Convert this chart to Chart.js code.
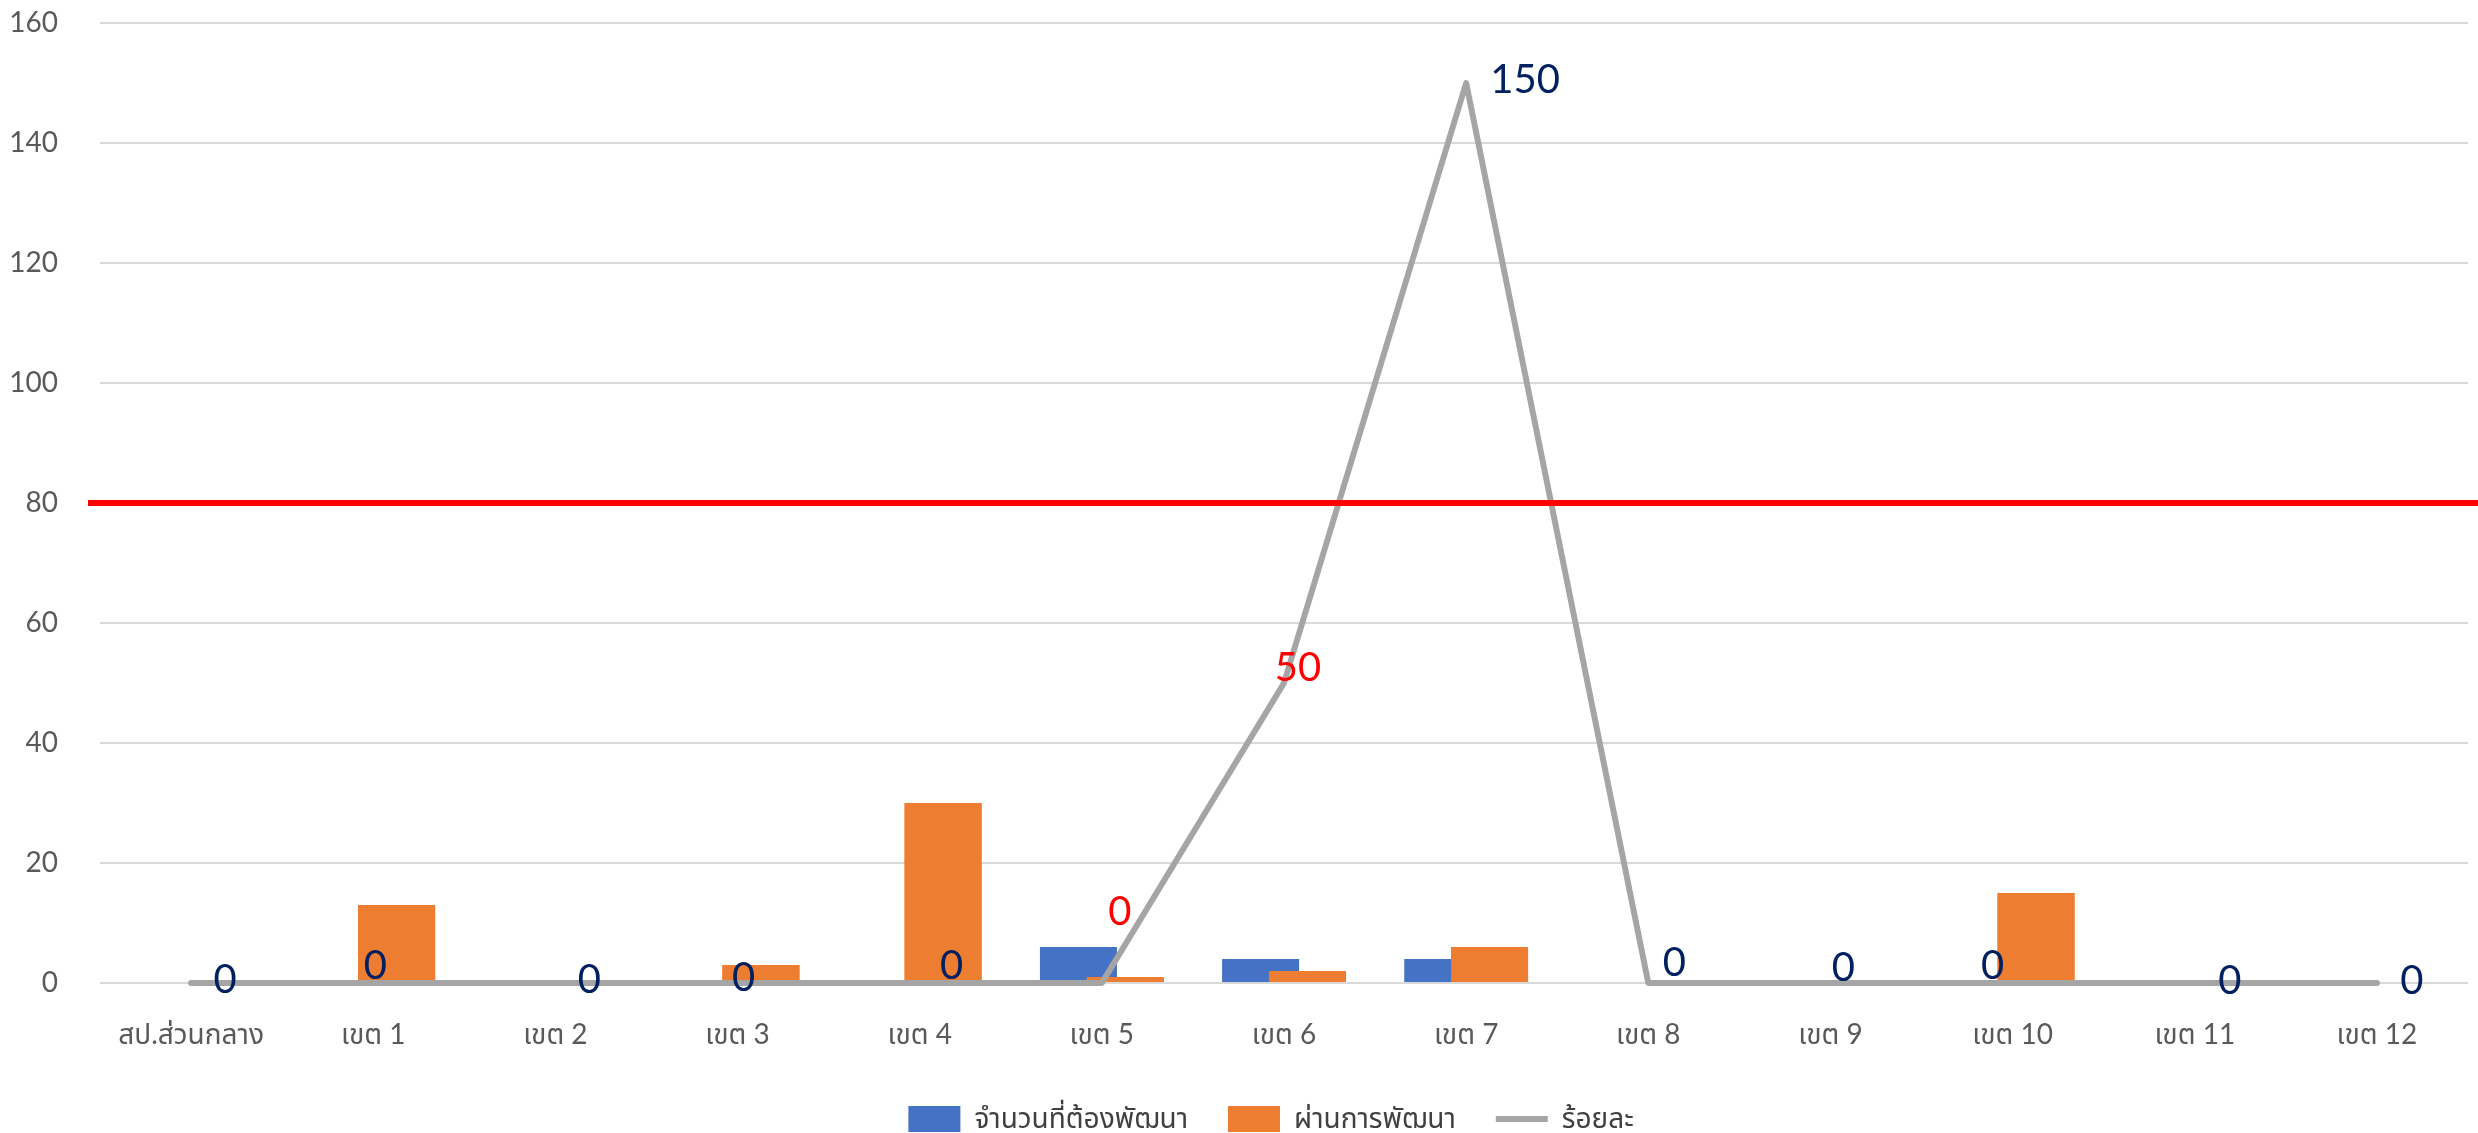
<!DOCTYPE html>
<html lang="th">
<head>
<meta charset="utf-8">
<title>ร้อยละผู้ผ่านการพัฒนา</title>
<script src="https://cdn.jsdelivr.net/npm/chart.js@4.4.1/dist/chart.umd.min.js"></script>
<style>
  html, body { margin: 0; padding: 0; background: #ffffff; overflow: hidden; }
  canvas { display: block; }
</style>
</head>
<body>
<canvas id="chart" width="2478" height="1133"></canvas>
<script>
// Regions shown along the x axis
const categories = ['สป.ส่วนกลาง', 'เขต 1', 'เขต 2', 'เขต 3', 'เขต 4', 'เขต 5', 'เขต 6',
                    'เขต 7', 'เขต 8', 'เขต 9', 'เขต 10', 'เขต 11', 'เขต 12'];

// People who need development (blue bars)
const needDevelop = [0, 0, 0, 0, 0, 6, 4, 4, 0, 0, 0, 0, 0];

// People who passed development (orange bars)
const passedDevelop = [0, 13, 0, 3, 30, 1, 2, 6, 0, 0, 15, 0, 0];

// Percentage line (grey), labelled at each point
const percent = [0, 0, 0, 0, 0, 0, 50, 150, 0, 0, 0, 0, 0];

// Target percentage (red horizontal line)
const targetPercent = 80;

// Value axis range
const yMin = 0, yMax = 160, yStep = 20;

// Label colours and nudges (pixels) for the percentage labels
const labelColors = ['#002060', '#002060', '#002060', '#002060', '#002060', '#FF0000', '#FF0000',
                     '#002060', '#002060', '#002060', '#002060', '#002060', '#002060'];
const labelNudges = [[34, -3], [2, -17], [34, -3], [6, -5], [32, -17], [18, -71], [14, -15],
                     [59, -3], [26, -20], [13, -15], [-20, -17], [35, -2], [35, -2]];

const FONT = "Lato, 'Noto Sans Thai', 'Noto Sans', sans-serif";

// Orange bars sit on top of the blue ones where they overlap
const orangeOnTop = {
  id: 'orangeOnTop',
  afterDatasetDraw(chart, args) {
    if (args.index === 0) {
      chart.getDatasetMeta(1).controller.draw();
    }
  }
};

// Legend row sits a little right of the canvas centre
const legendShift = {
  id: 'legendShift',
  afterLayout(chart) {
    if (chart.legend) {
      chart.legend.left += 37;
      chart.legend.right += 37;
    }
  }
};

// Target line and percentage labels
const overlays = {
  id: 'overlays',
  afterDatasetsDraw(chart) {
    const ctx = chart.ctx;
    const y = chart.scales.y.getPixelForValue(targetPercent);
    ctx.save();
    ctx.strokeStyle = '#FF0000';
    ctx.lineWidth = 6;
    ctx.beginPath();
    ctx.moveTo(chart.chartArea.left - 12, y);
    ctx.lineTo(chart.width, y);
    ctx.stroke();

    const meta = chart.getDatasetMeta(2);
    ctx.font = '40px ' + FONT;
    ctx.textAlign = 'center';
    ctx.textBaseline = 'middle';
    meta.data.forEach((pt, i) => {
      ctx.fillStyle = labelColors[i];
      ctx.fillText(String(percent[i]), pt.x + labelNudges[i][0], pt.y + labelNudges[i][1]);
    });
    ctx.restore();
  }
};

new Chart(document.getElementById('chart'), {
  type: 'bar',
  data: {
    labels: categories,
    datasets: [
      {
        label: 'จำนวนที่ต้องพัฒนา',
        data: needDevelop,
        backgroundColor: '#4472C4',
        borderWidth: 0,
        pointStyle: 'rect',
        order: 1,
        categoryPercentage: 0.514,
        barPercentage: 1.645
      },
      {
        label: 'ผ่านการพัฒนา',
        data: passedDevelop,
        backgroundColor: '#ED7D31',
        borderWidth: 0,
        pointStyle: 'rect',
        order: 1,
        categoryPercentage: 0.514,
        barPercentage: 1.645
      },
      {
        type: 'line',
        label: 'ร้อยละ',
        data: percent,
        borderColor: '#A5A5A5',
        backgroundColor: '#A5A5A5',
        borderWidth: 6,
        borderCapStyle: 'round',
        borderJoinStyle: 'round',
        tension: 0,
        pointRadius: 0,
        pointHoverRadius: 0,
        pointStyle: 'line',
        fill: false,
        clip: false,
        order: 0
      }
    ]
  },
  options: {
    responsive: false,
    devicePixelRatio: 1,
    animation: false,
    layout: { padding: { top: 23, left: 0, right: 10, bottom: -10 } },
    plugins: {
      tooltip: { enabled: false },
      legend: {
        position: 'bottom',
        labels: {
          usePointStyle: true,
          pointStyleWidth: 52,
          boxHeight: 26,
          padding: 40,
          color: '#404040',
          font: { family: FONT, size: 28 },
          sort: (a, b) => a.datasetIndex - b.datasetIndex
        }
      }
    },
    scales: {
      x: {
        grid: { display: false, drawTicks: false },
        border: { display: false },
        ticks: {
          color: '#595959',
          font: { family: FONT, size: 28 },
          padding: 35,
          maxRotation: 0,
          autoSkip: false
        },
        afterFit(scale) {
          scale.height = 82;
          scale.paddingLeft = 0;
          scale.paddingRight = 0;
        }
      },
      y: {
        min: yMin,
        max: yMax,
        grid: { color: '#D9D9D9', lineWidth: 2, drawTicks: false },
        border: { display: false },
        ticks: {
          stepSize: yStep,
          color: '#595959',
          font: { family: FONT, size: 28 },
          padding: 42
        },
        afterFit(scale) {
          scale.width = 100;
          scale.paddingTop = 0;
          scale.paddingBottom = 0;
        }
      }
    }
  },
  plugins: [orangeOnTop, legendShift, overlays]
});
</script>
</body>
</html>
